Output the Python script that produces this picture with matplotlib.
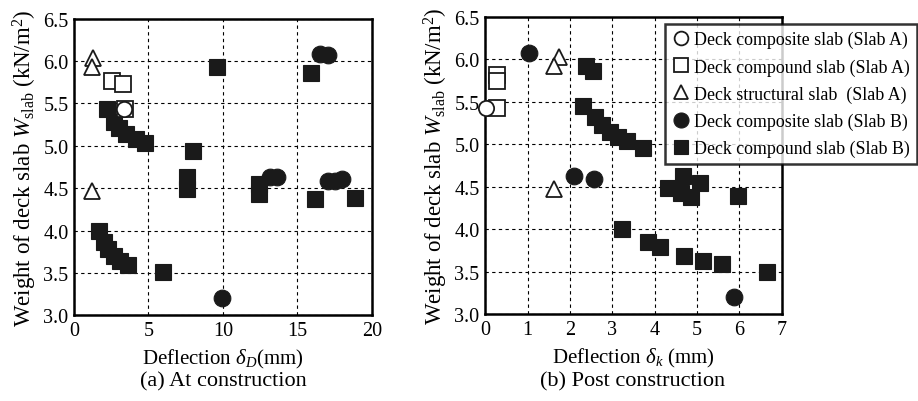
import matplotlib
matplotlib.use("Agg")
import matplotlib.pyplot as plt
from matplotlib.lines import Line2D

plt.rcParams["font.family"] = ["Liberation Serif", "DejaVu Serif"]
plt.rcParams["mathtext.fontset"] = "custom"
plt.rcParams["mathtext.rm"] = "Liberation Serif"
plt.rcParams["mathtext.it"] = "Liberation Serif:italic"

# (a) At construction: deflection delta_D (mm) vs slab weight (kN/m2)
a_circ_A_x = [3.38]
a_circ_A_y = [5.43]
a_sq_A_x = [2.53, 3.27, 3.42]
a_sq_A_y = [5.77, 5.73, 5.43]
a_tri_A_x = [1.3, 1.19, 1.21]
a_tri_A_y = [6.03, 5.93, 4.47]
a_circ_B_x = [16.5, 17.07, 13.15, 13.6, 17.07, 17.52, 17.97, 9.93]
a_circ_B_y = [6.08, 6.07, 4.63, 4.63, 4.59, 4.59, 4.61, 3.2]
a_sq_B_x = [9.62, 15.89, 2.19, 2.71, 3.04, 3.49, 4.16, 4.77, 7.97, 7.56, 7.56,
            12.44, 12.44, 16.17, 18.86, 1.65, 2.0, 2.3, 2.7, 3.1, 3.6, 5.95]
a_sq_B_y = [5.93, 5.86, 5.43, 5.28, 5.21, 5.14, 5.08, 5.03, 4.94, 4.63, 4.49,
            4.55, 4.43, 4.37, 4.39, 4.0, 3.86, 3.78, 3.70, 3.64, 3.59, 3.51]

# (b) Post construction: deflection delta_k (mm) vs slab weight (kN/m2)
b_circ_A_x = [0.03]
b_circ_A_y = [5.43]
b_sq_A_x = [0.28, 0.28, 0.28]
b_sq_A_y = [5.81, 5.74, 5.43]
b_tri_A_x = [1.74, 1.62, 1.62]
b_tri_A_y = [6.03, 5.92, 4.47]
b_circ_B_x = [1.03, 2.09, 2.57, 5.87]
b_circ_B_y = [6.07, 4.63, 4.59, 3.2]
b_sq_B_x = [2.39, 2.54, 2.31, 2.59, 2.75, 2.94, 3.14, 3.35, 3.73,
            4.32, 4.67, 4.63, 4.85, 5.07, 5.97,
            3.23, 3.85, 4.12, 4.69, 5.14, 5.6, 6.65]
b_sq_B_y = [5.92, 5.86, 5.45, 5.32, 5.23, 5.14, 5.08, 5.04, 4.96,
            4.49, 4.63, 4.43, 4.38, 4.55, 4.39,
            4.0, 3.85, 3.79, 3.69, 3.63, 3.59, 3.5]

labels = ["Deck composite slab (Slab A)", "Deck compound slab (Slab A)",
          "Deck structural slab  (Slab A)", "Deck composite slab (Slab B)",
          "Deck compound slab (Slab B)"]

BLK = "#1a1a1a"
styles = [
    dict(marker="o", ms=11, mfc="white", mec=BLK, mew=1.3),
    dict(marker="s", ms=11, mfc="white", mec=BLK, mew=1.3),
    dict(marker="^", ms=11, mfc="white", mec=BLK, mew=1.3),
    dict(marker="o", ms=12, mfc=BLK, mec=BLK, mew=0.8),
    dict(marker="s", ms=11, mfc=BLK, mec=BLK, mew=0.8),
]

fig = plt.figure(figsize=(9.18, 4.02), dpi=100)
ax1 = fig.add_axes([0.0806, 0.2129, 0.3246, 0.7383])
ax2 = fig.add_axes([0.5285, 0.2159, 0.3230, 0.7398])


def draw(ax, series, xmax, xticks):
    # filled markers first, open ones on top
    for i in [4, 3, 2, 1, 0]:
        xs, ys = series[i]
        ax.plot(xs, ys, ls="none", clip_on=False, zorder=3 + (4 - i) * 0.1,
                **styles[i])
    ax.set_xlim(0, xmax)
    ax.set_ylim(3.0, 6.5)
    ax.set_xticks(xticks)
    ax.set_yticks([3.0, 3.5, 4.0, 4.5, 5.0, 5.5, 6.0, 6.5])
    ax.set_yticklabels(["%.1f" % v for v in ax.get_yticks()])
    ax.grid(True, color="black", ls=(0, (3, 3)), lw=0.8)
    ax.set_axisbelow(True)
    for sp in ax.spines.values():
        sp.set_linewidth(1.8)
    ax.tick_params(direction="in", length=0, labelsize=14.5, pad=4)
    ax.set_ylabel(r"Weight of deck slab $W_{\rm slab}$ (kN/m$^2$)",
                  fontsize=16.5, labelpad=3)


draw(ax1, [(a_circ_A_x, a_circ_A_y), (a_sq_A_x, a_sq_A_y), (a_tri_A_x, a_tri_A_y),
           (a_circ_B_x, a_circ_B_y), (a_sq_B_x, a_sq_B_y)], 20, [0, 5, 10, 15, 20])
draw(ax2, [(b_circ_A_x, b_circ_A_y), (b_sq_A_x, b_sq_A_y), (b_tri_A_x, b_tri_A_y),
           (b_circ_B_x, b_circ_B_y), (b_sq_B_x, b_sq_B_y)], 7, range(8))

ax1.set_xlabel(r"Deflection $\delta_D$(mm)", fontsize=15, labelpad=5)
ax2.set_xlabel(r"Deflection $\delta_k$ (mm)", fontsize=15, labelpad=5)

fig.text(223 / 918, 1 - 382 / 402, "(a) At construction", fontsize=16,
         ha="center", va="center")
fig.text(633 / 918, 1 - 382 / 402, "(b) Post construction", fontsize=16,
         ha="center", va="center")

handles = [Line2D([], [], ls="none", **styles[i]) for i in range(5)]
leg = fig.legend(handles, labels, loc="upper right",
                 bbox_to_anchor=(0.999, 1 - 25 / 402), fontsize=12.9,
                 frameon=True, fancybox=False, borderaxespad=0,
                 handlelength=0.9, handletextpad=0.3, labelspacing=0.55,
                 borderpad=0.4, markerscale=0.9)
leg.get_frame().set_edgecolor("black")
leg.get_frame().set_linewidth(1.8)
leg.set_zorder(10)

fig.savefig("out.png", dpi=100)
